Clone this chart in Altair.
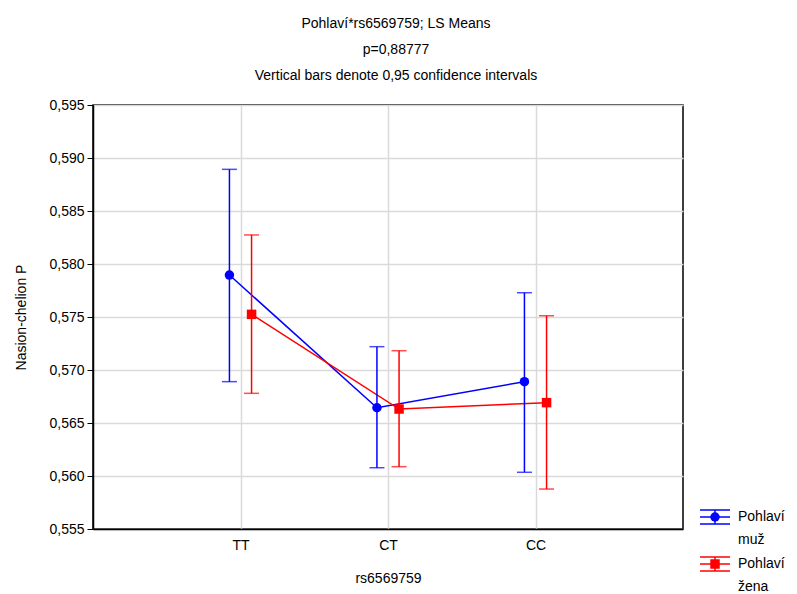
import altair as alt
import pandas as pd

genotypes = ["TT", "CT", "CC"]
series_names = ["Pohlaví muž", "Pohlaví žena"]
muz_mean = [0.57896, 0.56644, 0.56890]
muz_low = [0.56890, 0.56078, 0.56035]
muz_high = [0.58893, 0.57220, 0.57729]
zena_mean = [0.57525, 0.56632, 0.56692]
zena_low = [0.56780, 0.56088, 0.55877]
zena_high = [0.58274, 0.57182, 0.57512]
y_ticks = [0.555, 0.560, 0.565, 0.570, 0.575, 0.580, 0.585, 0.590, 0.595]
colors = ["#0000ff", "#ff0000"]
shapes = ["circle", "square"]

offsets = [-0.075, 0.075]
rows = []
for s, (name, means, lows, highs) in enumerate(
    [(series_names[0], muz_mean, muz_low, muz_high),
     (series_names[1], zena_mean, zena_low, zena_high)]):
    for i, g in enumerate(genotypes):
        rows.append({"series": name, "genotype": g, "x": i + 1 + offsets[s],
                     "mean": means[i], "low": lows[i], "high": highs[i]})
df = pd.DataFrame(rows)

FONT = "Liberation Sans"

xscale = alt.Scale(domain=[0, 4], nice=False, zero=False)
yscale = alt.Scale(domain=[0.555, 0.595], nice=False, zero=False)
xaxis = alt.Axis(values=[1, 2, 3], labelExpr="['', 'TT', 'CT', 'CC'][datum.value]",
                 grid=True, ticks=False, title="rs6569759", labelPadding=9,
                 titlePadding=19)
yaxis = alt.Axis(values=y_ticks, labelExpr="replace(format(datum.value, '.3f'), '.', ',')",
                 grid=True, title="Nasion-chelion P", tickSize=6, labelPadding=3,
                 titlePadding=20)

color = alt.Color("series:N", scale=alt.Scale(domain=series_names, range=colors), legend=None)
X = alt.X("x:Q", scale=xscale, axis=xaxis)


def Y(field):
    return alt.Y(f"{field}:Q", scale=yscale, axis=yaxis)


base = alt.Chart(df)
lines = base.mark_line(strokeWidth=1.5).encode(x=X, y=Y("mean"), color=color,
                                               detail="series:N", order="x:Q")
bars = base.mark_rule(strokeWidth=1.5).encode(x=X, y=Y("low"), y2="high:Q", color=color)
cap_lo = base.mark_tick(orient="horizontal", size=15, thickness=1.5).encode(
    x=X, y=Y("low"), color=color)
cap_hi = base.mark_tick(orient="horizontal", size=15, thickness=1.5).encode(
    x=X, y=Y("high"), color=color)
pts = base.mark_point(filled=True, opacity=1, size=90).encode(
    x=X, y=Y("mean"), color=color,
    shape=alt.Shape("series:N", scale=alt.Scale(domain=series_names, range=shapes), legend=None))

# manual legend
leg_df = pd.DataFrame({"series": series_names,
                       "l1": ["Pohlaví", "Pohlaví"], "l2": ["muž", "žena"]})
legend_layers = []
leg_y = [412, 459]
for s in range(2):
    src = alt.Chart(leg_df).transform_filter(alt.datum.series == series_names[s])
    c = colors[s]
    yc = leg_y[s]
    for dy in (-7, 0, 7):
        legend_layers.append(src.mark_rule(color=c, strokeWidth=1.5).encode(
            x=alt.value(607), x2=alt.value(637), y=alt.value(yc + dy)))
    legend_layers.append(src.mark_rule(color=c, strokeWidth=1.5).encode(
        x=alt.value(622), y=alt.value(yc - 7), y2=alt.value(yc + 7)))
    legend_layers.append(src.mark_point(color=c, filled=True, opacity=1, size=90,
                                        shape=shapes[s]).encode(
        x=alt.value(622), y=alt.value(yc)))
    legend_layers.append(src.mark_text(align="left", baseline="middle", font=FONT,
                                       fontSize=14, color="black").encode(
        x=alt.value(645), y=alt.value(yc), text="l1:N"))
    legend_layers.append(src.mark_text(align="left", baseline="middle", font=FONT,
                                       fontSize=14, color="black").encode(
        x=alt.value(645), y=alt.value(yc + 23), text="l2:N"))

chart = alt.layer(lines, bars, cap_lo, cap_hi, pts, *legend_layers).properties(
    width=590, height=424,
    background="white",
    title=alt.TitleParams(
        text=["Pohlaví*rs6569759; LS Means", "p=0,88777",
              "Vertical bars denote 0,95 confidence intervals"],
        font=FONT, fontSize=14, fontWeight="normal", color="black",
        lineHeight=26, anchor="middle", offset=15, dx=8),
    autosize=alt.AutoSizeParams(type="none"),
    padding={"left": 93, "top": 105, "right": 114, "bottom": 65},
).configure_axis(
    labelFont=FONT, labelFontSize=14, labelColor="black",
    titleFont=FONT, titleFontSize=14, titleFontWeight="normal", titleColor="black",
    domainColor="black", domainWidth=1.5, tickColor="black",
    gridColor="#dadada", gridWidth=1.5,
).configure_view(stroke="black", strokeWidth=1.5)

chart.save("out.html", embed_options={"renderer": "svg", "actions": False})
